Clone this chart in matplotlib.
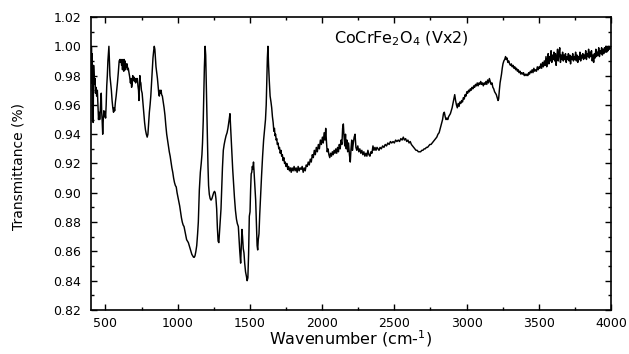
import numpy as np
import matplotlib
matplotlib.use("Agg")
import matplotlib.pyplot as plt
from matplotlib.ticker import MultipleLocator, FormatStrFormatter

# FTIR spectrum, split by region: (wavenumber, transmittance)
fingerprint = [
    (400, 0.975), (403, 1.000), (405, 0.985), (407, 0.995), (409, 0.960), (411, 0.950),
    (413, 0.975), (415, 0.948), (418, 0.987), (421, 0.980), (425, 0.974), (428, 0.978),
    (431, 0.968), (435, 0.972), (439, 0.966), (444, 0.970), (448, 0.960), (452, 0.950),
    (456, 0.955), (460, 0.950), (463, 0.953), (467, 0.962), (471, 0.968), (474, 0.955),
    (477, 0.950), (481, 0.940), (485, 0.950), (489, 0.956), (493, 0.952), (497, 0.955),
    (501, 0.951), (505, 0.960), (509, 0.973), (513, 0.980), (517, 0.990), (521, 0.996),
    (524, 1.000), (527, 0.992), (531, 0.980), (536, 0.975), (541, 0.970), (546, 0.963),
    (551, 0.958), (556, 0.955), (560, 0.958), (564, 0.956), (569, 0.962), (574, 0.966),
    (578, 0.970), (583, 0.975), (589, 0.982), (595, 0.990), (600, 0.991), (604, 0.989),
    (608, 0.991), (612, 0.987), (615, 0.990), (618, 0.984), (621, 0.991), (624, 0.986),
    (627, 0.983), (630, 0.991), (633, 0.985), (636, 0.990), (639, 0.984), (642, 0.988),
    (646, 0.986), (650, 0.988), (654, 0.984), (658, 0.985), (663, 0.982), (668, 0.979),
    (673, 0.975), (677, 0.978), (681, 0.972), (685, 0.974), (689, 0.980), (693, 0.977),
    (697, 0.979), (701, 0.976), (705, 0.978), (709, 0.975), (713, 0.978), (717, 0.976),
    (721, 0.978), (725, 0.973), (729, 0.970), (732, 0.963), (735, 0.972), (738, 0.980),
    (741, 0.976), (745, 0.975), (749, 0.970), (754, 0.968), (759, 0.962), (765, 0.955),
    (771, 0.948), (777, 0.943), (783, 0.940), (789, 0.938), (794, 0.940), (799, 0.948),
    (804, 0.955), (809, 0.960), (814, 0.966), (819, 0.975), (824, 0.985), (829, 0.992),
    (834, 0.997), (838, 1.000), (842, 0.998), (846, 0.992), (850, 0.986), (855, 0.982),
    (860, 0.978), (865, 0.972), (869, 0.968), (873, 0.966), (877, 0.970), (881, 0.968),
    (885, 0.970), (889, 0.967), (894, 0.966), (900, 0.962), (906, 0.958), (912, 0.953),
    (918, 0.946), (924, 0.940), (930, 0.936), (936, 0.932), (942, 0.928), (948, 0.925),
    (954, 0.921), (960, 0.917), (966, 0.914), (972, 0.910), (978, 0.907), (984, 0.905),
    (990, 0.904), (996, 0.900),
]

bands = [
    (1002, 0.897), (1008, 0.894), (1014, 0.891), (1020, 0.887), (1026, 0.883), (1032, 0.880),
    (1038, 0.878), (1044, 0.877), (1050, 0.874), (1056, 0.871), (1062, 0.868), (1068, 0.867),
    (1074, 0.866), (1080, 0.864), (1086, 0.862), (1092, 0.860), (1098, 0.858), (1104, 0.857),
    (1110, 0.856), (1115, 0.856), (1120, 0.857), (1126, 0.860), (1132, 0.864), (1138, 0.872),
    (1143, 0.880), (1150, 0.902), (1157, 0.914), (1163, 0.920), (1168, 0.926), (1172, 0.934),
    (1177, 0.949), (1181, 0.968), (1185, 0.986), (1190, 1.000), (1194, 0.994), (1198, 0.975),
    (1202, 0.955), (1206, 0.935), (1210, 0.918), (1214, 0.905), (1219, 0.899), (1225, 0.896),
    (1231, 0.895), (1237, 0.896), (1243, 0.898), (1249, 0.900), (1255, 0.901), (1260, 0.900),
    (1265, 0.896), (1270, 0.889), (1275, 0.876), (1280, 0.867), (1285, 0.866), (1290, 0.874),
    (1295, 0.882), (1300, 0.889), (1305, 0.904), (1310, 0.917), (1316, 0.929), (1322, 0.933),
    (1328, 0.936), (1335, 0.939), (1342, 0.941), (1348, 0.944), (1354, 0.948), (1358, 0.951),
    (1362, 0.954), (1366, 0.946), (1370, 0.938), (1375, 0.928), (1381, 0.916), (1387, 0.906),
    (1393, 0.897), (1400, 0.888), (1407, 0.882), (1413, 0.879), (1420, 0.877), (1425, 0.868),
    (1430, 0.860), (1436, 0.852), (1440, 0.862), (1445, 0.875), (1449, 0.870), (1454, 0.862),
    (1459, 0.859), (1464, 0.852), (1470, 0.846), (1476, 0.843), (1481, 0.840), (1486, 0.842),
    (1491, 0.858), (1496, 0.884), (1501, 0.887), (1505, 0.902), (1509, 0.913), (1513, 0.914),
    (1517, 0.918), (1521, 0.916), (1525, 0.921), (1530, 0.912), (1535, 0.903), (1540, 0.895),
    (1545, 0.880), (1550, 0.864), (1554, 0.861), (1558, 0.868), (1563, 0.872), (1568, 0.885),
    (1574, 0.898), (1581, 0.912), (1588, 0.925), (1595, 0.936), (1602, 0.944), (1608, 0.950),
    (1613, 0.960), (1617, 0.975), (1621, 0.992), (1625, 1.000), (1629, 0.988), (1634, 0.977),
    (1640, 0.966), (1646, 0.962), (1651, 0.958), (1656, 0.952), (1661, 0.948), (1666, 0.942),
    (1670, 0.944), (1674, 0.939), (1678, 0.940), (1682, 0.936), (1686, 0.937), (1690, 0.933),
    (1695, 0.934), (1700, 0.930), (1705, 0.931), (1710, 0.927), (1715, 0.929), (1720, 0.925),
    (1725, 0.926), (1730, 0.922), (1735, 0.924), (1740, 0.920), (1745, 0.921), (1750, 0.918),
    (1756, 0.920), (1762, 0.916), (1768, 0.918), (1774, 0.915),
]

mid = [
    (1780, 0.917), (1786, 0.914), (1792, 0.917), (1799, 0.915), (1806, 0.918), (1813, 0.915),
    (1820, 0.917), (1827, 0.914), (1834, 0.918), (1841, 0.915), (1848, 0.917), (1855, 0.916),
    (1862, 0.918), (1869, 0.914), (1876, 0.917), (1883, 0.915), (1890, 0.919), (1897, 0.918),
    (1904, 0.921), (1911, 0.919), (1918, 0.923), (1925, 0.921), (1932, 0.926), (1939, 0.924),
    (1946, 0.929), (1953, 0.926), (1960, 0.931), (1967, 0.928), (1974, 0.933), (1981, 0.930),
    (1988, 0.936), (1995, 0.933), (2002, 0.938), (2008, 0.934), (2014, 0.941), (2020, 0.936),
    (2025, 0.944), (2030, 0.935), (2035, 0.928), (2041, 0.930), (2047, 0.926), (2053, 0.924),
    (2059, 0.927), (2065, 0.925), (2071, 0.928), (2077, 0.926), (2083, 0.929), (2089, 0.927),
    (2095, 0.930), (2101, 0.927), (2107, 0.931), (2113, 0.928), (2119, 0.933), (2125, 0.930),
    (2131, 0.936), (2137, 0.933), (2142, 0.944), (2147, 0.947), (2152, 0.938), (2157, 0.932),
    (2162, 0.940), (2167, 0.930), (2172, 0.936), (2177, 0.928), (2183, 0.934), (2189, 0.926),
    (2195, 0.921), (2200, 0.930), (2205, 0.936), (2210, 0.929), (2216, 0.934), (2222, 0.938),
    (2228, 0.940), (2234, 0.931), (2240, 0.929), (2247, 0.932), (2254, 0.928), (2261, 0.930),
    (2268, 0.927), (2275, 0.929), (2282, 0.926), (2289, 0.928), (2296, 0.925), (2303, 0.927),
    (2310, 0.925), (2317, 0.929), (2324, 0.926), (2331, 0.925), (2338, 0.928), (2345, 0.927),
    (2352, 0.932), (2359, 0.929), (2366, 0.931), (2373, 0.929), (2380, 0.931), (2387, 0.930),
    (2394, 0.929), (2401, 0.931), (2410, 0.930), (2419, 0.932), (2428, 0.931), (2437, 0.933),
    (2446, 0.932), (2455, 0.934), (2464, 0.933), (2473, 0.935), (2482, 0.934), (2491, 0.935),
    (2500, 0.934), (2509, 0.936), (2518, 0.935), (2527, 0.936), (2536, 0.935), (2545, 0.937),
    (2554, 0.936), (2562, 0.938), (2570, 0.936), (2578, 0.937), (2586, 0.935), (2594, 0.936),
    (2602, 0.934), (2610, 0.935), (2618, 0.933), (2626, 0.932), (2634, 0.931), (2642, 0.930),
    (2650, 0.929), (2658, 0.929), (2666, 0.928), (2674, 0.928), (2682, 0.928), (2690, 0.929),
    (2698, 0.929), (2706, 0.930), (2714, 0.930), (2722, 0.931), (2730, 0.931), (2738, 0.932),
    (2746, 0.933), (2754, 0.933), (2762, 0.934), (2770, 0.935), (2778, 0.936), (2786, 0.937),
    (2794, 0.938),
]

high = [
    (2802, 0.940), (2810, 0.941), (2818, 0.944), (2826, 0.947), (2834, 0.950), (2840, 0.954),
    (2846, 0.955), (2852, 0.952), (2858, 0.950), (2864, 0.951), (2870, 0.950), (2876, 0.952),
    (2882, 0.953), (2888, 0.954), (2894, 0.956), (2900, 0.958), (2906, 0.961), (2912, 0.964),
    (2918, 0.967), (2924, 0.963), (2930, 0.960), (2936, 0.958), (2942, 0.961), (2948, 0.959),
    (2954, 0.962), (2960, 0.961), (2966, 0.963), (2972, 0.962), (2978, 0.965), (2984, 0.964),
    (2990, 0.967), (2996, 0.966), (3002, 0.969), (3008, 0.968), (3014, 0.970), (3020, 0.969),
    (3026, 0.971), (3032, 0.970), (3038, 0.972), (3044, 0.971), (3050, 0.973), (3056, 0.972),
    (3062, 0.974), (3068, 0.973), (3074, 0.975), (3080, 0.973), (3086, 0.975), (3092, 0.974),
    (3098, 0.976), (3104, 0.974), (3110, 0.975), (3116, 0.973), (3122, 0.975), (3128, 0.974),
    (3134, 0.976), (3140, 0.974), (3146, 0.977), (3152, 0.975), (3158, 0.978), (3164, 0.976),
    (3170, 0.974), (3176, 0.975), (3182, 0.972), (3188, 0.971), (3194, 0.969), (3200, 0.968),
    (3206, 0.967), (3212, 0.965), (3218, 0.963), (3222, 0.964), (3227, 0.970), (3232, 0.975),
    (3237, 0.978), (3242, 0.981), (3247, 0.985), (3252, 0.988), (3258, 0.990), (3264, 0.991),
    (3270, 0.993), (3275, 0.991), (3280, 0.992), (3286, 0.989), (3292, 0.990), (3298, 0.988),
    (3304, 0.987), (3310, 0.988), (3316, 0.986), (3322, 0.987), (3328, 0.985), (3334, 0.986),
    (3340, 0.984), (3346, 0.985), (3352, 0.983), (3358, 0.984), (3364, 0.982), (3370, 0.983),
    (3376, 0.981), (3382, 0.982), (3388, 0.981), (3394, 0.982), (3400, 0.980), (3406, 0.981),
    (3412, 0.980), (3418, 0.981), (3424, 0.980), (3430, 0.982), (3436, 0.981), (3442, 0.983),
    (3448, 0.982), (3454, 0.984), (3460, 0.982), (3466, 0.985), (3472, 0.983), (3478, 0.984),
    (3484, 0.983), (3490, 0.986), (3496, 0.984), (3502, 0.986), (3508, 0.985), (3514, 0.988),
    (3520, 0.985), (3526, 0.989), (3532, 0.986), (3538, 0.990), (3544, 0.987), (3550, 0.993),
    (3555, 0.986), (3560, 0.991), (3565, 0.995), (3570, 0.988), (3575, 0.993), (3580, 0.990),
    (3585, 0.997), (3590, 0.989), (3595, 0.994), (3600, 0.991), (3605, 0.996), (3610, 0.990),
    (3615, 0.995), (3620, 0.987), (3625, 0.993), (3630, 0.998), (3635, 0.990), (3640, 0.995),
    (3645, 0.999), (3650, 0.989), (3655, 0.994), (3660, 0.991), (3665, 0.996), (3670, 0.990),
    (3675, 0.994), (3680, 0.991), (3685, 0.995), (3690, 0.989), (3695, 0.993), (3700, 0.991),
    (3705, 0.995), (3710, 0.990), (3715, 0.994), (3720, 0.988), (3725, 0.993), (3730, 0.991),
    (3735, 0.995), (3740, 0.990), (3745, 0.993), (3750, 0.991), (3755, 0.996), (3760, 0.990),
    (3765, 0.994), (3770, 0.989), (3775, 0.993), (3780, 0.991), (3785, 0.996), (3790, 0.990),
    (3795, 0.994), (3800, 0.992), (3805, 0.995), (3810, 0.991), (3815, 0.994), (3820, 0.992),
    (3825, 0.997), (3830, 0.991), (3835, 0.995), (3840, 0.993), (3845, 0.998), (3850, 0.992),
    (3855, 0.996), (3860, 0.993), (3865, 0.997), (3870, 0.990), (3875, 0.994), (3880, 0.989),
    (3885, 0.995), (3890, 0.992), (3895, 0.998), (3900, 0.993), (3905, 0.996), (3910, 0.994),
    (3915, 0.999), (3920, 0.993), (3925, 0.997), (3930, 0.995), (3935, 0.999), (3940, 0.994),
    (3945, 0.998), (3950, 0.995), (3955, 0.999), (3960, 0.996), (3965, 1.000), (3970, 0.996),
    (3975, 0.999), (3980, 0.997), (3985, 1.000), (3990, 0.998), (3995, 0.999), (4000, 0.999),
]

sample_label = r'CoCrFe$_2$O$_4$ (Vx2)'

spectrum = np.array(fingerprint + bands + mid + high)
wavenumber = spectrum[:, 0]
transmittance = spectrum[:, 1]

plt.rcParams['font.family'] = ['DejaVu Sans']
plt.rcParams['mathtext.fontset'] = 'dejavusans'

fig = plt.figure(figsize=(6.29, 3.54), dpi=100)
ax = fig.add_axes([91 / 629, 1 - 310 / 354, 520 / 629, 293 / 354])

ax.plot(wavenumber, transmittance, color='black', lw=1.05)

ax.set_xlim(400, 4000)
ax.set_ylim(0.82, 1.02)
ax.xaxis.set_major_locator(MultipleLocator(500))
ax.xaxis.set_minor_locator(MultipleLocator(250))
ax.yaxis.set_major_locator(MultipleLocator(0.02))
ax.yaxis.set_minor_locator(MultipleLocator(0.01))
ax.yaxis.set_major_formatter(FormatStrFormatter('%.2f'))

ax.tick_params(which='both', direction='in', top=True, right=True, width=1.0)
ax.tick_params(which='major', length=4.5, labelsize=9)
ax.tick_params(which='minor', length=2.5)
ax.tick_params(axis='y', which='major', pad=7)
ax.tick_params(axis='x', which='major', pad=5)
for sp in ax.spines.values():
    sp.set_linewidth(1.2)

ax.set_xlabel('Wavenumber (cm-$^{1}$)', fontsize=11.5)
ax.xaxis.set_label_coords(0.5, -0.063)
ax.set_ylabel('Transmittance (%)', fontsize=10)
ax.yaxis.set_label_coords(-0.125, 0.49)

ax.text(2546, 1.002, sample_label, ha='center', va='baseline', fontsize=11.5)

fig.savefig('out.png', dpi=100)
